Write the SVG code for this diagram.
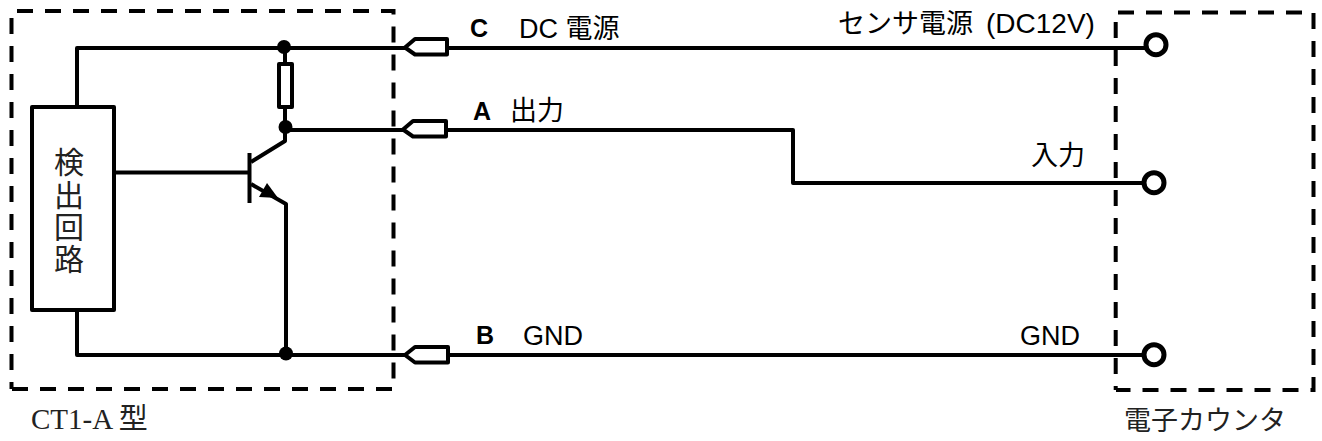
<svg xmlns="http://www.w3.org/2000/svg" width="1322" height="441" viewBox="0 0 1322 441">
<style>
.w{fill:none;stroke:#000;stroke-width:4;stroke-linejoin:round}
.d{fill:none;stroke:#000;stroke-width:4;stroke-dasharray:16 12}
.t{fill:#fff;stroke:#000;stroke-width:4;stroke-linejoin:round}
.s{font-family:"Liberation Sans","Noto Sans CJK JP",sans-serif;font-size:27px;fill:#000}
.b{font-family:"Liberation Sans",sans-serif;font-size:25px;font-weight:bold;fill:#000}
.m{font-family:"Liberation Serif","Noto Sans CJK JP",serif;fill:#222}
</style>
<rect width="1322" height="441" fill="#fff"/>
<g id="connectors">
<path class="w" d="M77 107V48H405M447 48H1146"/>
<path class="w" d="M285 48V64M285 107V127"/>
<path class="w" d="M285 130H404M446 130H793V183H1144"/>
<path class="w" d="M114 172.500H248"/>
<path class="w" d="M251 162L285 141V130"/>
<path class="w" d="M251 184L286 204V354"/>
<path class="w" d="M77 310V355H405M448 355H1144"/>
</g>
<g id="box-ct1a">
<path class="d" d="M17 11H393.500V389H11.500"/>
<path class="d" d="M11.500 370V14"/>
<path class="w" d="M11.500 389V382"/>
<text class="m" x="31" y="429" font-size="29">CT1-A 型</text>
</g>
<g id="box-counter">
<path class="d" d="M1118 12.500H1313.500V390H1116"/>
<path class="d" d="M1115.700 22V390"/>
<text class="m" x="1124" y="430" font-size="27">電子カウンタ</text>
</g>
<g id="detector">
<rect class="t" x="32" y="107" width="82" height="203"/>
<text class="m" font-size="30" text-anchor="middle"><tspan x="69" y="173">検</tspan><tspan x="69" y="206">出</tspan><tspan x="69" y="238">回</tspan><tspan x="69" y="270">路</tspan></text>
</g>
<g id="transistor">
<path class="w" d="M249.500 153V203"/>
<polygon points="278,198 267,183 259,197" fill="#000"/>
</g>
<g id="resistor"><rect class="t" x="279" y="64" width="13" height="43"/></g>
<g id="junctions">
<circle cx="284" cy="47" r="7"/>
<circle cx="285.500" cy="127" r="7"/>
<circle cx="286" cy="353.500" r="7"/>
</g>
<g id="terminal-c"><polygon class="t" points="405,47.500 415,39 447,39 447,54.500 415,54.500"/><text class="b" x="470" y="37">C</text><text class="s" x="519" y="38">DC 電源</text></g>
<g id="terminal-a"><polygon class="t" points="403,129.500 413,121 446,121 446,136.500 413,136.500"/><text class="b" x="473" y="120">A</text><text class="s" x="510" y="120">出力</text></g>
<g id="terminal-b"><polygon class="t" points="405,355 415,347 448,347 448,362.500 415,362.500"/><text class="b" x="476" y="344">B</text><text class="s" x="523" y="345">GND</text></g>
<g id="input-power"><circle class="t" cx="1156" cy="44.700" r="10" style="stroke-width:5"/><text class="s" x="838" y="33">センサ電源<tspan x="986" font-size="28">(DC12V)</tspan></text></g>
<g id="input-signal"><circle class="t" cx="1154" cy="182.700" r="10" style="stroke-width:5"/><text class="s" x="1031" y="165">入力</text></g>
<g id="input-gnd"><circle class="t" cx="1154" cy="354.700" r="10" style="stroke-width:5"/><text class="s" x="1020" y="345">GND</text></g>
</svg>
